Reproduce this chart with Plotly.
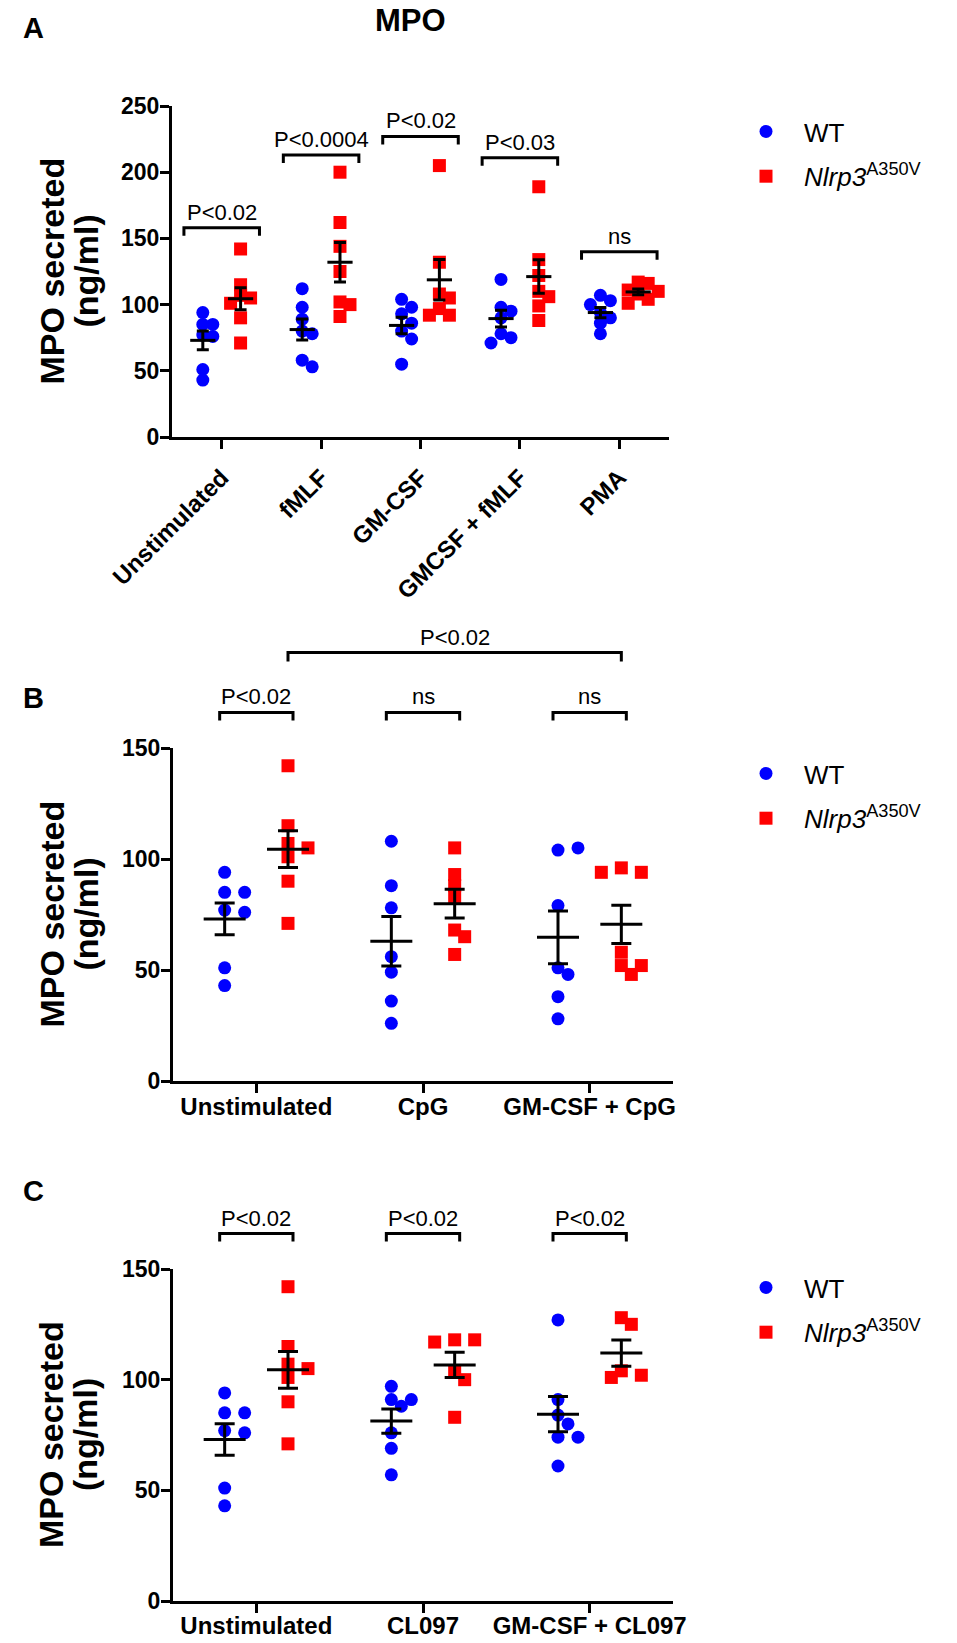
import numpy as np
import plotly.graph_objects as go

W, H = 957, 1643
MARGIN = 8                     # default <body> margin of the html page
FW, FH = W - 2 * MARGIN, H - MARGIN
FONT = "Liberation Sans, Arial, sans-serif"

# ---- data (MPO secreted, ng/ml) ----
groups_a = ["Unstimulated", "fMLF", "GM-CSF", "GMCSF + fMLF", "PMA"]
wt_a = [
    [94, 85, 85, 77, 76, 51, 43],
    [112, 98, 89, 80, 78, 58, 53],
    [104, 98, 93, 86, 80, 74, 55],
    [119, 98, 95, 90, 78, 75, 71],
    [107, 103, 100, 94, 90, 86, 78],
]
nlrp3_a = [
    [142, 115, 107, 105, 101, 90, 71],
    [200, 162, 144, 125, 102, 100, 91],
    [205, 132, 108, 105, 97, 92, 92],
    [189, 134, 122, 110, 106, 99, 88],
    [117, 116, 111, 110, 108, 104, 101],
]
pvals_a = ["P<0.02", "P<0.0004", "P<0.02", "P<0.03", "ns"]

groups_b = ["Unstimulated", "CpG", "GM-CSF + CpG"]
wt_b = [
    [94, 85, 85, 77, 76, 51, 43],
    [108, 88, 78, 56, 49, 36, 26],
    [104, 105, 79, 51, 48, 38, 28],
]
nlrp3_b = [
    [142, 115, 107, 105, 101, 90, 71],
    [105, 93, 88, 83, 68, 65, 57],
    [96, 94, 94, 58, 52, 52, 48],
]
pvals_b = ["P<0.02", "ns", "ns"]
pval_b_top = "P<0.02"

groups_c = ["Unstimulated", "CL097", "GM-CSF + CL097"]
wt_c = [
    [94, 85, 85, 77, 76, 51, 43],
    [97, 91, 91, 88, 76, 69, 57],
    [127, 91, 84, 80, 74, 74, 61],
]
nlrp3_c = [
    [142, 115, 107, 105, 101, 90, 71],
    [118, 118, 117, 104, 100, 83],
    [128, 125, 104, 102, 101],
]
pvals_c = ["P<0.02", "P<0.02", "P<0.02"]

# ---- layout of the three panels (page pixels) ----
panels = [
    dict(name="A", groups=groups_a, wt=wt_a, mut=nlrp3_a, pv=pvals_a,
         x0=172, x1=669, ytop=106, ybot=437, ymax=250, angle=-45,
         brk=[158, 213, 227, 211, 140], half=0.38, mean_size=18, cap=6,
         leg_top=108, letter_y=28, overlap=0.75, xstand=5),
    dict(name="B", groups=groups_b, wt=wt_b, mut=nlrp3_b, pv=pvals_b,
         x0=173, x1=673, ytop=748, ybot=1081, ymax=150, angle=0,
         brk=[166, 166, 166], half=0.22, mean_size=30, cap=10,
         leg_top=750, letter_y=698, overlap=0.85, xstand=-7),
    dict(name="C", groups=groups_c, wt=wt_c, mut=nlrp3_c, pv=pvals_c,
         x0=173, x1=673, ytop=1269, ybot=1601, ymax=150, angle=0,
         brk=[166, 166, 166], half=0.22, mean_size=30, cap=10,
         leg_top=1264, letter_y=1191, overlap=0.85, xstand=-8),
]
OFF = 0.19  # WT / Nlrp3 offset from the group centre


def fx(px):
    return (px - MARGIN) / FW


def fy(py):
    return 1 - (py - MARGIN) / FH


def swarm(vals, center, py, px, d=13.0, step=10.0, overlap=0.85):
    # simple beeswarm so overlapping points sit side by side
    placed, xs = [], []
    for v in vals:
        yv = v * py
        xo = 0
        for k in [0, 1, -1, 2, -2, 3, -3, 4, -4]:
            xo = k * step
            if all((xo - a) ** 2 + (yv - b) ** 2 >= (overlap * d) ** 2 for a, b in placed):
                break
        placed.append((xo, yv))
        xs.append(center + xo / px)
    return xs


fig = go.Figure()
shapes, annotations = [], []
axis_common = dict(showline=True, linewidth=3, linecolor="black", ticks="outside",
                   ticklen=9, tickwidth=3, tickcolor="black", showgrid=False,
                   zeroline=False, fixedrange=True, automargin=False)

for i, p in enumerate(panels):
    sfx = "" if i == 0 else str(i + 1)
    xa, ya = "x" + sfx, "y" + sfx
    leg = "legend" + sfx
    n = len(p["groups"])
    py = (p["ybot"] - p["ytop"]) / p["ymax"]
    px = (p["x1"] - p["x0"]) / n

    for vals_all, off, col, sym, name in [
        (p["wt"], -OFF, "#0000FF", "circle", "WT"),
        (p["mut"], OFF, "#FF0000", "square", "<i>Nlrp3</i><sup>A350V</sup>"),
    ]:
        xs, ys = [], []
        for g, vals in enumerate(vals_all):
            xs += swarm(vals, g + off, py, px, overlap=p["overlap"])
            ys += vals
        fig.add_trace(go.Scatter(
            x=xs, y=ys, mode="markers", name=name, legend=leg, legendgroup=name + sfx,
            xaxis=xa, yaxis=ya,
            marker=dict(color=col, symbol=sym, size=13, line=dict(width=0)),
        ))
    for vals_all, off in [(p["wt"], -OFF), (p["mut"], OFF)]:
        means = [np.mean(v) for v in vals_all]
        sems = [np.std(v, ddof=1) / np.sqrt(len(v)) for v in vals_all]
        fig.add_trace(go.Scatter(
            x=[g + off for g in range(n)], y=means, mode="markers", showlegend=False,
            xaxis=xa, yaxis=ya,
            marker=dict(symbol="line-ew", size=p["mean_size"], color="black",
                        line=dict(width=3, color="black")),
            error_y=dict(type="data", array=sems, visible=True, color="black",
                         thickness=3, width=p["cap"]),
        ))

    # significance brackets
    def bracket(xl, xr, val, label, drop_px):
        top = val / p["ymax"]
        low = (val - drop_px / py) / p["ymax"]
        shapes.append(dict(type="path", xref=xa, yref=ya + " domain",
                           path=f"M {xl},{low} L {xl},{top} L {xr},{top} L {xr},{low}",
                           line=dict(color="black", width=3), layer="above"))
        annotations.append(dict(x=(xl + xr) / 2, y=top, xref=xa, yref=ya + " domain",
                                text=label, showarrow=False, yanchor="bottom", yshift=1,
                                font=dict(family=FONT, size=22, color="black")))

    for g in range(n):
        bracket(g - p["half"], g + p["half"], p["brk"][g], p["pv"][g], 8)
    if p["name"] == "B":
        bracket(OFF, 2 + OFF, 193, pval_b_top, 9)

    fig.update_layout({
        "xaxis" + sfx: dict(axis_common, domain=[fx(p["x0"]), fx(p["x1"])], anchor=ya,
                            range=[-0.5, n - 0.5],
                            tickvals=list(range(n)), ticktext=p["groups"],
                            tickangle=p["angle"], ticklabelstandoff=p["xstand"],
                            tickfont=dict(family=FONT, size=24, color="black", weight="bold")),
        "yaxis" + sfx: dict(axis_common, domain=[fy(p["ybot"]), fy(p["ytop"])], anchor=xa,
                            range=[0, p["ymax"]], dtick=50, ticklabelstandoff=-4,
                            tickfont=dict(family=FONT, size=23, color="black", weight="bold")),
        leg: dict(x=fx(728), y=fy(p["leg_top"]), xanchor="left", yanchor="top",
                  itemwidth=66, tracegroupgap=8,
                  font=dict(family=FONT, size=26, color="black"),
                  bgcolor="rgba(0,0,0,0)", itemclick=False, itemdoubleclick=False),
    })

    # y axis title, two lines
    for xpos, txt in [(51, "MPO secreted"), (85, "(ng/ml)")]:
        annotations.append(dict(x=fx(xpos), y=0.5, xref="paper", yref=ya + " domain",
                                text=txt, textangle=-90, showarrow=False,
                                xanchor="center", yanchor="middle",
                                font=dict(family=FONT, size=34, color="black", weight="bold")))
    annotations.append(dict(x=fx(33), y=fy(p["letter_y"]), xref="paper", yref="paper",
                            text=p["name"], showarrow=False, xanchor="center",
                            yanchor="middle",
                            font=dict(family=FONT, size=29, color="black", weight="bold")))

annotations.append(dict(x=fx(410), y=fy(20), xref="paper", yref="paper", text="MPO",
                        showarrow=False, xanchor="center", yanchor="middle",
                        font=dict(family=FONT, size=31, color="black", weight="bold")))

fig.update_layout(
    width=FW, height=FH, autosize=False,
    margin=dict(l=0, r=0, t=0, b=0, autoexpand=False),
    paper_bgcolor="white", plot_bgcolor="white",
    shapes=shapes, annotations=annotations,
    font=dict(family=FONT, color="black"),
)

fig.write_html("out.html")
